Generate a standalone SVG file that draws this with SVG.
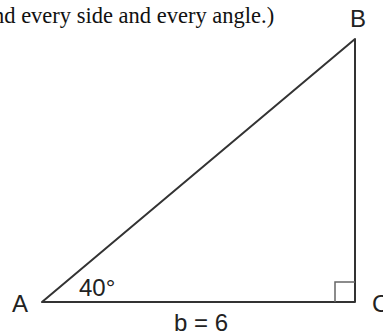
<svg xmlns="http://www.w3.org/2000/svg" width="383" height="335" viewBox="0 0 383 335">
<style>
.lbl{font-family:"Liberation Sans",Arial,sans-serif;font-size:24px;fill:#222}
.cap{font-family:"Liberation Serif","Times New Roman",serif;font-size:22.5px;fill:#111}
.side{fill:none;stroke:#333;stroke-width:2;stroke-linecap:round;stroke-linejoin:round}
.mark{fill:none;stroke:#666;stroke-width:1.5}
</style>
<rect width="383" height="335" fill="#fff"/>
<text class="cap" x="-7" y="23">nd every side and every angle.)</text>
<g id="connectors">
<polyline class="side" points="42,302 355,302 355,39 42,302"/>
<polyline id="right-angle" class="mark" points="335,302 335,282 355,282"/>
</g>
<g id="A"><text class="lbl" x="12" y="312">A</text></g>
<g id="B"><text class="lbl" x="350" y="27">B</text></g>
<g id="C"><text class="lbl" x="372" y="312">C</text></g>
<g id="angleA"><text class="lbl" x="79" y="296">40°</text></g>
<g id="sideb"><text class="lbl" x="174" y="331">b = 6</text></g>
</svg>
